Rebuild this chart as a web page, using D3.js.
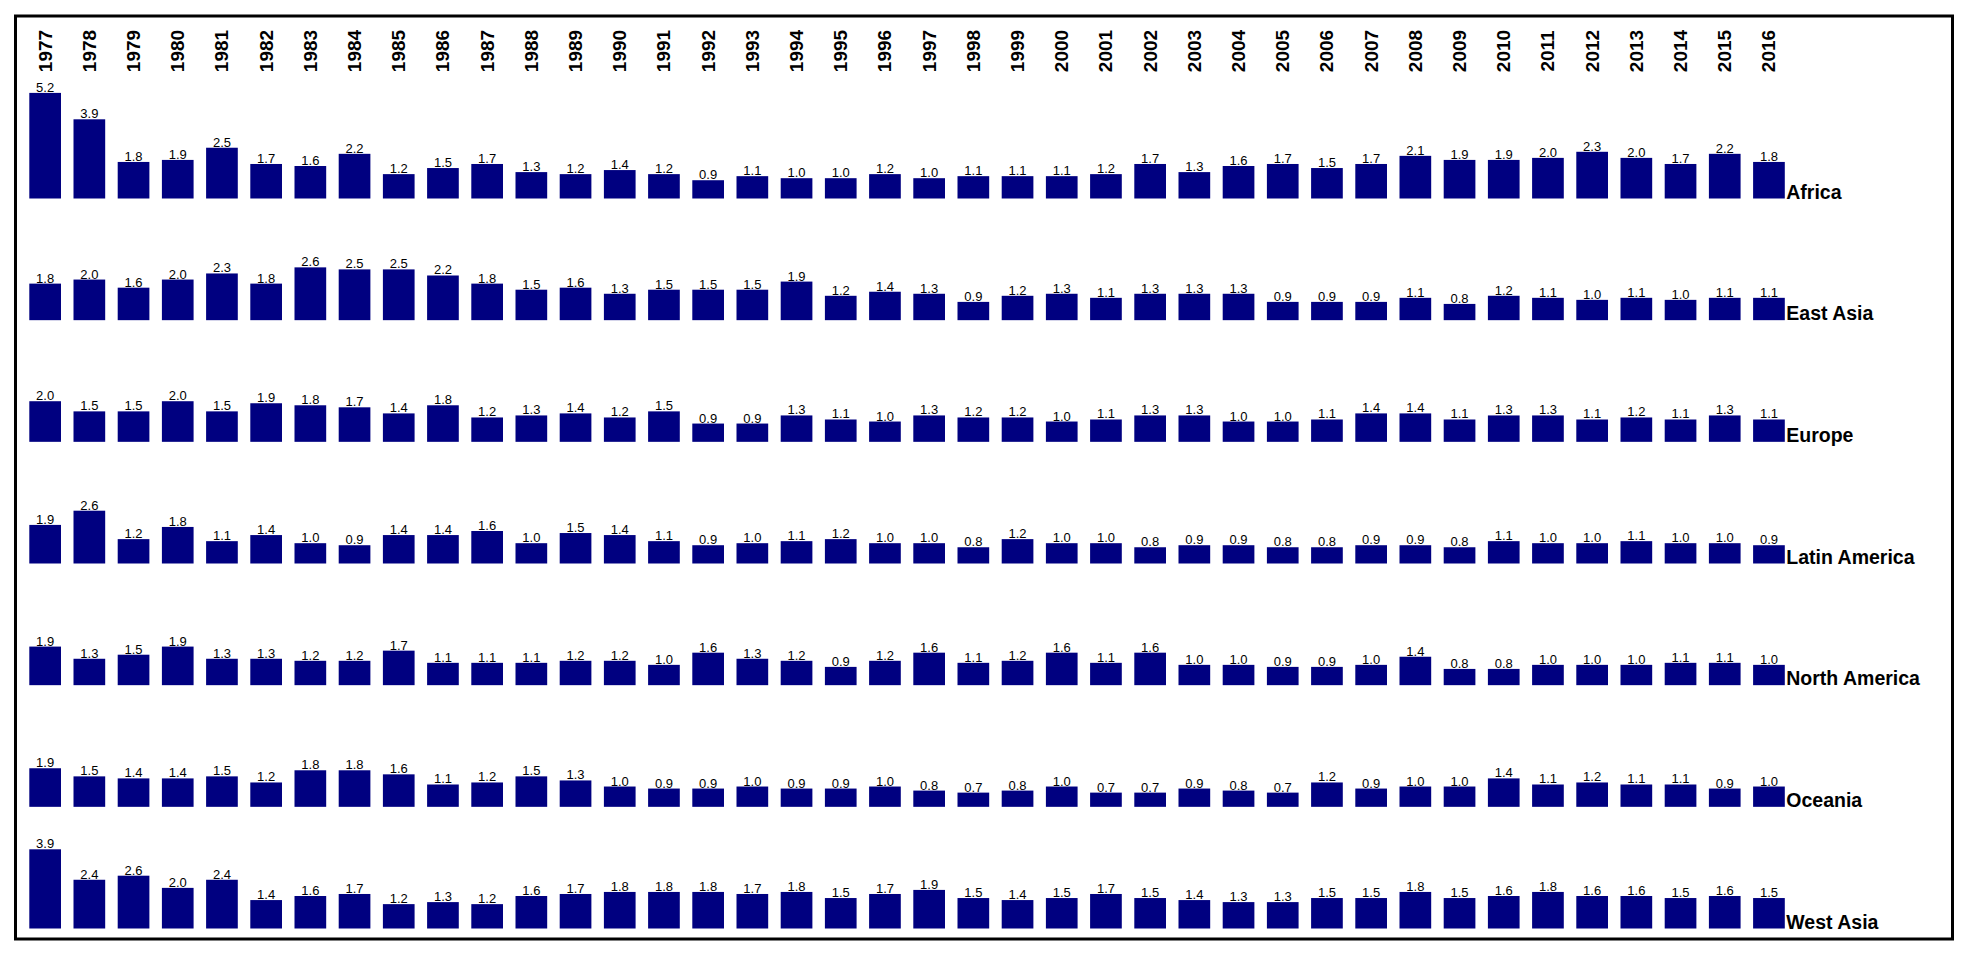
<!DOCTYPE html>
<html>
<head>
<meta charset="utf-8">
<script src="https://cdn.jsdelivr.net/npm/d3@7/dist/d3.min.js"></script>
<style>
  html, body { margin: 0; padding: 0; background: #ffffff; }
  svg { display: block; }
  text { font-family: "Liberation Sans", Arial, sans-serif; }
</style>
</head>
<body>
<svg id="chart" width="1974" height="960"></svg>
<script>
const years = [1977,1978,1979,1980,1981,1982,1983,1984,1985,1986,1987,1988,1989,1990,1991,1992,1993,1994,1995,1996,1997,1998,1999,2000,2001,2002,2003,2004,2005,2006,2007,2008,2009,2010,2011,2012,2013,2014,2015,2016];

const regions = ["Africa", "East Asia", "Europe", "Latin America", "North America", "Oceania", "West Asia"];

const africa       = [5.2,3.9,1.8,1.9,2.5,1.7,1.6,2.2,1.2,1.5,1.7,1.3,1.2,1.4,1.2,0.9,1.1,1.0,1.0,1.2,1.0,1.1,1.1,1.1,1.2,1.7,1.3,1.6,1.7,1.5,1.7,2.1,1.9,1.9,2.0,2.3,2.0,1.7,2.2,1.8];
const eastAsia     = [1.8,2.0,1.6,2.0,2.3,1.8,2.6,2.5,2.5,2.2,1.8,1.5,1.6,1.3,1.5,1.5,1.5,1.9,1.2,1.4,1.3,0.9,1.2,1.3,1.1,1.3,1.3,1.3,0.9,0.9,0.9,1.1,0.8,1.2,1.1,1.0,1.1,1.0,1.1,1.1];
const europe       = [2.0,1.5,1.5,2.0,1.5,1.9,1.8,1.7,1.4,1.8,1.2,1.3,1.4,1.2,1.5,0.9,0.9,1.3,1.1,1.0,1.3,1.2,1.2,1.0,1.1,1.3,1.3,1.0,1.0,1.1,1.4,1.4,1.1,1.3,1.3,1.1,1.2,1.1,1.3,1.1];
const latinAmerica = [1.9,2.6,1.2,1.8,1.1,1.4,1.0,0.9,1.4,1.4,1.6,1.0,1.5,1.4,1.1,0.9,1.0,1.1,1.2,1.0,1.0,0.8,1.2,1.0,1.0,0.8,0.9,0.9,0.8,0.8,0.9,0.9,0.8,1.1,1.0,1.0,1.1,1.0,1.0,0.9];
const northAmerica = [1.9,1.3,1.5,1.9,1.3,1.3,1.2,1.2,1.7,1.1,1.1,1.1,1.2,1.2,1.0,1.6,1.3,1.2,0.9,1.2,1.6,1.1,1.2,1.6,1.1,1.6,1.0,1.0,0.9,0.9,1.0,1.4,0.8,0.8,1.0,1.0,1.0,1.1,1.1,1.0];
const oceania      = [1.9,1.5,1.4,1.4,1.5,1.2,1.8,1.8,1.6,1.1,1.2,1.5,1.3,1.0,0.9,0.9,1.0,0.9,0.9,1.0,0.8,0.7,0.8,1.0,0.7,0.7,0.9,0.8,0.7,1.2,0.9,1.0,1.0,1.4,1.1,1.2,1.1,1.1,0.9,1.0];
const westAsia     = [3.9,2.4,2.6,2.0,2.4,1.4,1.6,1.7,1.2,1.3,1.2,1.6,1.7,1.8,1.8,1.8,1.7,1.8,1.5,1.7,1.9,1.5,1.4,1.5,1.7,1.5,1.4,1.3,1.3,1.5,1.5,1.8,1.5,1.6,1.8,1.6,1.6,1.5,1.6,1.5];

const seriesValues = [africa, eastAsia, europe, latinAmerica, northAmerica, oceania, westAsia];

const svg = d3.select("#chart");

// frame
svg.append("rect")
  .attr("x", 15.5).attr("y", 16).attr("width", 1937).attr("height", 923)
  .attr("fill", "none").attr("stroke", "#000").attr("stroke-width", 3);

const step = 44.2, pad = 0.283;
const x0 = 29.3 - step * pad / 2;
const x = d3.scaleBand()
  .domain(years)
  .range([x0, x0 + step * years.length])
  .paddingInner(pad)
  .paddingOuter(pad / 2);

const rowBase = d3.scalePoint().domain(regions).range([198.5, 928.5]);
const h = d3.scaleLinear().domain([0, 5.2]).range([0, 105.6]);

// year labels
svg.append("g").selectAll("text")
  .data(years)
  .join("text")
  .attr("transform", d => `translate(${x(d) + x.bandwidth() / 2},51) rotate(-90)`)
  .attr("text-anchor", "middle")
  .attr("dominant-baseline", "central")
  .attr("font-size", 19)
  .attr("font-weight", "bold")
  .attr("fill", "#000")
  .text(d => d);

regions.forEach((r, i) => {
  const vals = seriesValues[i];
  const base = rowBase(r);
  const g = svg.append("g").attr("class", "row");
  g.selectAll("rect")
    .data(vals)
    .join("rect")
    .attr("x", (d, j) => x(years[j]))
    .attr("y", d => base - h(d))
    .attr("width", x.bandwidth())
    .attr("height", d => h(d))
    .attr("fill", "#000080");
  g.selectAll("text.val")
    .data(vals)
    .join("text")
    .attr("class", "val")
    .attr("x", (d, j) => x(years[j]) + x.bandwidth() / 2)
    .attr("y", d => base - h(d) - 1)
    .attr("text-anchor", "middle")
    .attr("font-size", 13)
    .attr("fill", "#000")
    .text(d => d.toFixed(1));
  g.append("text")
    .attr("x", x(years[years.length - 1]) + x.bandwidth() + 1.5)
    .attr("y", base)
    .attr("font-size", 19.5)
    .attr("font-weight", "bold")
    .attr("fill", "#000")
    .text(r);
});
</script>
</body>
</html>
